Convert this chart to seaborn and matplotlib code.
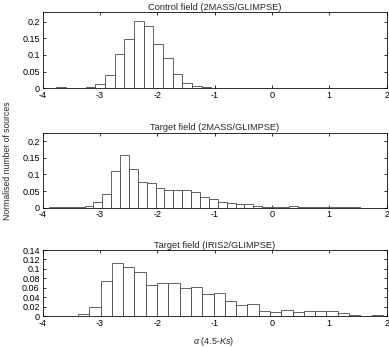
import numpy as np
import pandas as pd
import matplotlib
matplotlib.use("Agg")
import matplotlib.pyplot as plt
import seaborn as sns
from matplotlib.ticker import FuncFormatter

# Bin layout of each histogram (start of first bin, bin width)
CONTROL_START, CONTROL_WIDTH = -3.76, 0.169
TARGET_2MASS_START, TARGET_2MASS_WIDTH = -3.89, 0.155
TARGET_IRIS_START, TARGET_IRIS_WIDTH = -3.384, 0.197

# Normalised number of sources per bin
control_heights = [0.004, 0.002, 0.002, 0.005, 0.013, 0.041, 0.102, 0.147, 0.201,
                   0.186, 0.133, 0.090, 0.042, 0.015, 0.006, 0.005, 0.002, 0.001]
target_2mass_heights = [0.002, 0.002, 0.002, 0.003, 0.006, 0.016, 0.040, 0.111, 0.157,
                        0.115, 0.077, 0.073, 0.058, 0.054, 0.054, 0.052, 0.048, 0.033,
                        0.025, 0.018, 0.013, 0.010, 0.010, 0.005, 0.003, 0.002, 0.002,
                        0.004, 0.002, 0.002, 0.001, 0.003, 0.001, 0.002, 0.002]
target_iris_heights = [0.0035, 0.020, 0.074, 0.112, 0.103, 0.093, 0.066, 0.069, 0.071,
                       0.060, 0.061, 0.047, 0.048, 0.031, 0.023, 0.025, 0.010, 0.009,
                       0.013, 0.009, 0.010, 0.010, 0.010, 0.006, 0.003, 0.001, 0.002]

panel_titles = ["Control field (2MASS/GLIMPSE)",
                "Target field (2MASS/GLIMPSE)",
                "Target field (IRIS2/GLIMPSE)"]
x_ticks = [-4, -3, -2, -1, 0, 1, 2]
y_ticks = [[0, 0.05, 0.1, 0.15, 0.2],
           [0, 0.05, 0.1, 0.15, 0.2],
           [0, 0.02, 0.04, 0.06, 0.08, 0.1, 0.12, 0.14]]
y_limits = [0.229, 0.225, 0.14]

sns.set_style("ticks")
plt.rcParams["font.family"] = ["Liberation Sans", "DejaVu Sans"]
plt.rcParams["axes.unicode_minus"] = False
plt.rcParams["mathtext.fontset"] = "custom"
plt.rcParams["mathtext.rm"] = "Liberation Sans"
plt.rcParams["mathtext.it"] = "Liberation Sans:italic"

DPI = 72
fig = plt.figure(figsize=(389 / DPI, 347 / DPI), dpi=DPI)

# axes rectangles in pixels: left, top, right, bottom
rects = [(42.7, 12.0, 386.6, 88.3),
         (42.7, 132.7, 386.6, 207.7),
         (42.7, 250.0, 386.6, 316.0)]

series = [(CONTROL_START, CONTROL_WIDTH, control_heights),
          (TARGET_2MASS_START, TARGET_2MASS_WIDTH, target_2mass_heights),
          (TARGET_IRIS_START, TARGET_IRIS_WIDTH, target_iris_heights)]

fmt = FuncFormatter(lambda v, p: f"{v:g}")

for i, ((start, width, heights), rect) in enumerate(zip(series, rects)):
    l, t, r, b = rect
    ax = fig.add_axes([l / 389, (347 - b) / 347, (r - l) / 389, (b - t) / 347])
    edges = (start + width * np.arange(len(heights) + 1)).tolist()
    centers = [(lo + hi) / 2 for lo, hi in zip(edges[:-1], edges[1:])]
    df = pd.DataFrame({"alpha": centers, "frac": heights})
    sns.histplot(data=df, x="alpha", weights="frac", bins=edges, stat="count",
                 color="white", edgecolor="#404040", linewidth=0.8, alpha=1,
                 ax=ax)
    ax.set_xlim(-4, 2)
    ax.set_ylim(0, y_limits[i])
    ax.set_xticks(x_ticks)
    ax.set_yticks(y_ticks[i])
    ax.xaxis.set_major_formatter(fmt)
    ax.yaxis.set_major_formatter(fmt)
    ax.tick_params(direction="in", top=True, right=True, length=3, width=0.8,
                   labelsize=9, colors="black")
    ax.tick_params(axis="x", pad=2.5)
    ax.tick_params(axis="y", pad=3)
    for s in ax.spines.values():
        s.set_visible(True)
        s.set_linewidth(0.8)
        s.set_color("black")
    ax.set_xlabel("")
    ax.set_ylabel("")
    ax.set_title(panel_titles[i], fontsize=9.3, pad=2.5)

fig.text(7.5 / 389, (347 - 161) / 347, "Normalised number of sources",
         rotation=90, ha="center", va="center", fontsize=8.6)
fig.text(214 / 389, (347 - 341) / 347, r"$\alpha$ (4.5-$Ks$)",
         ha="center", va="center", fontsize=9)

fig.savefig("out.png", dpi=DPI)
